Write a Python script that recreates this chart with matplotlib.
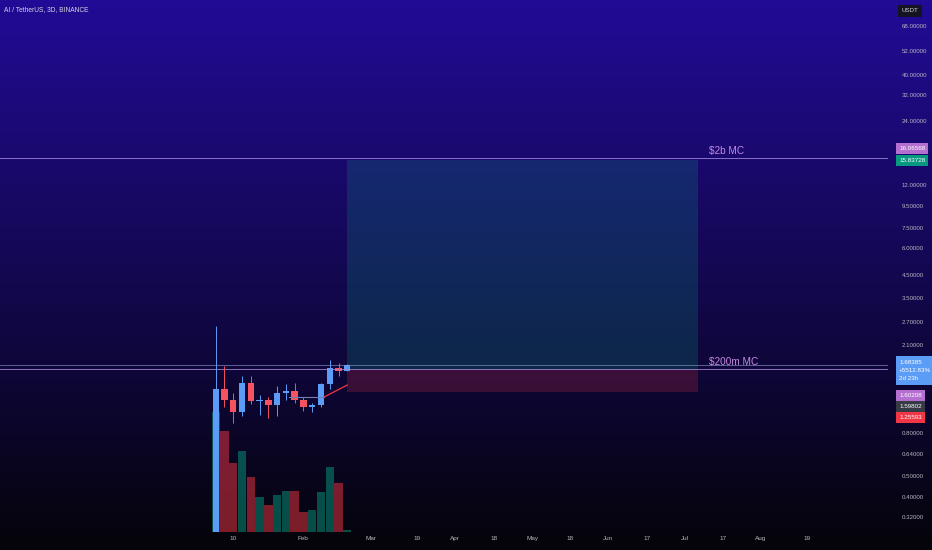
import matplotlib
matplotlib.use("Agg")
import matplotlib.pyplot as plt
import numpy as np

plt.rcParams['font.family'] = ['Liberation Sans Narrow', 'Liberation Sans', 'DejaVu Sans']

# 3D candles, AI / TetherUS (bar index 0 = Jan 4)
opens = [0.03, 1.29, 1.148, 1.01, 1.39, 1.14, 1.15, 1.09, 1.236, 1.27, 1.15, 1.068, 1.09, 1.37, 1.634, 1.584]
closes = [1.29, 1.148, 1.01, 1.39, 1.14, 1.15, 1.09, 1.236, 1.27, 1.15, 1.068, 1.09, 1.37, 1.634, 1.584, 1.68385]
highs = [2.575, 1.663, 1.236, 1.493, 1.49, 1.213, 1.185, 1.338, 1.37, 1.39, 1.185, 1.113, 1.39, 1.776, 1.72, 1.70]
lows = [0.03, 1.068, 0.896, 0.963, 1.094, 0.98, 0.94, 0.963, 1.15, 1.106, 1.02, 1.01, 1.068, 1.30, 1.50, 1.57]
volume = [240, 203, 138, 162, 111, 70, 55, 75, 83, 83, 40, 45, 81, 131, 99, 5]

date_labels = ['10', 'Feb', 'Mar', '19', 'Apr', '18', 'May', '18', 'Jun', '17', 'Jul', '17', 'Aug', '19']
date_pos = [2, 9.95, 17.7, 22.9, 27.3, 31.7, 36.1, 40.4, 44.7, 49.2, 53.5, 57.8, 62.1, 67.4]

# scale labels (the ones not hidden behind the price tags)
price_ticks = [68, 52, 40, 32, 24, 12, 9.5, 7.5, 6, 4.5, 3.5, 2.7, 2.1, 0.8, 0.64, 0.5, 0.4, 0.32]

mc_2b = 16.06568
mc_200m = 1.60208
last_price = 1.68385
entry = 1.59802
target = 15.83728
stop = 1.25593
pos_start, pos_end = 15, 55

trend_x = [8.3, 12.3, 15]
trend_y = [1.183, 1.183, 1.352]

UP = '#5b9cf6'
DOWN = '#f7525f'
TXT = '#b2b5be'
PURPLE = '#c68ae2'

fig = plt.figure(figsize=(9.32, 5.5), dpi=100)

# background gradient
bg = fig.add_axes([0, 0, 1, 1], zorder=0)
top = np.array([34, 11, 150]) / 255
bot = np.array([5, 4, 10]) / 255
t = np.linspace(0, 1, 256)[:, None]
grad = (top * (1 - t) + bot * t)[:, None, :]
bg.imshow(grad, aspect='auto', extent=[0, 1, 0, 1])
bg.axis('off')

rect = [0, 18 / 550, 888 / 932, 532 / 550]
xlim = (-24.6, 76.66)
x = np.arange(len(opens))

# volume
vax = fig.add_axes(rect, zorder=1)
vax.patch.set_visible(False)
vcol = ['#089981' if c >= o else '#f23645' for o, c in zip(opens, closes)]
vax.bar(x, volume, width=0.96, color=vcol, alpha=0.5, lw=0)
vax.set_xlim(*xlim)
vax.set_ylim(0, 1064)
vax.axis('off')

# price
ax = fig.add_axes(rect, zorder=2)
ax.patch.set_visible(False)
ax.set_yscale('log')
ax.set_xlim(*xlim)
ax.set_ylim(0.272, 90.3)

ax.fill_between([pos_start, pos_end], entry, target, color='#089981', alpha=0.22, lw=0)
ax.fill_between([pos_start, pos_end], stop, entry, color='#f23645', alpha=0.2, lw=0)

ax.axhline(mc_2b, color='#a98bdc', lw=0.7, alpha=0.8)
ax.axhline(mc_200m, color='#a98bdc', lw=0.7, alpha=0.8)
ax.axhline(last_price, color='#8f9ad8', lw=0.6, alpha=0.7)

ax.text(56.2, mc_2b * 1.02, '$2b MC', color=PURPLE, fontsize=7.2, va='bottom', ha='left')
ax.text(56.2, mc_200m * 1.03, '$200m MC', color=PURPLE, fontsize=7.2, va='bottom', ha='left')

ccol = [UP if c >= o else DOWN for o, c in zip(opens, closes)]
ax.vlines(x, lows, highs, colors=ccol, lw=0.7)
bottoms = np.minimum(opens, closes)
heights = np.abs(np.array(closes) - np.array(opens))
heights = np.maximum(heights, 0.008)
ax.bar(x, heights, bottom=bottoms, width=0.72, color=ccol, lw=0)

ax.plot(trend_x[:2], trend_y[:2], color='#6f7fb8', lw=0.8)
ax.plot(trend_x[1:], trend_y[1:], color='#f23645', lw=0.9)

ax.set_yticks(price_ticks)
ax.set_yticklabels(['%.5f' % v for v in price_ticks])
ax.yaxis.set_minor_locator(matplotlib.ticker.NullLocator())
ax.yaxis.tick_right()
ax.tick_params(axis='y', length=0, pad=10, labelsize=4.4, labelcolor=TXT)
ax.set_xticks(date_pos)
ax.set_xticklabels(date_labels)
ax.tick_params(axis='x', length=0, pad=3, labelsize=4.6, labelcolor=TXT)
for s in ax.spines.values():
    s.set_visible(False)

# price tags on the scale
def tag(val, txt, color, dy):
    ax.annotate(txt, xy=(1.0, val), xycoords=('axes fraction', 'data'),
                xytext=(11, dy), textcoords='offset pixels', fontsize=4.5, color='white',
                va='center', ha='left', annotation_clip=False, zorder=10,
                bbox=dict(boxstyle='square,pad=0.5', fc=color, ec='none'))

tag(mc_2b, '%.5f' % mc_2b, '#b56fd0', 10)
tag(target, '%.5f' % target, '#089981', -1)
ax.annotate('%.5f\n+5512.83%%\n2d 23h' % last_price, xy=(1.0, last_price),
            xycoords=('axes fraction', 'data'), xytext=(11, 5), textcoords='offset pixels',
            fontsize=4.5, color='white', va='top', ha='left', linespacing=1.8,
            annotation_clip=False, zorder=10,
            bbox=dict(boxstyle='square,pad=0.55', fc='#5b9cf6', ec='none'))
tag(mc_200m, '%.5f' % mc_200m, '#b56fd0', -26)
tag(entry, '%.5f' % entry, '#363a45', -37)
tag(stop, '%.5f' % stop, '#f23645', -26)

fig.text(4 / 932, 1 - 10 / 550, 'AI / TetherUS, 3D, BINANCE', color='#d1d4dc', fontsize=4.8,
         va='center', ha='left')
fig.text(910 / 932, 1 - 11 / 550, 'USDT', color='#d1d4dc', fontsize=4.4, va='center', ha='center',
         bbox=dict(boxstyle='square,pad=0.6', fc='#131322', ec='none'))

fig.savefig('out.png', dpi=100)
